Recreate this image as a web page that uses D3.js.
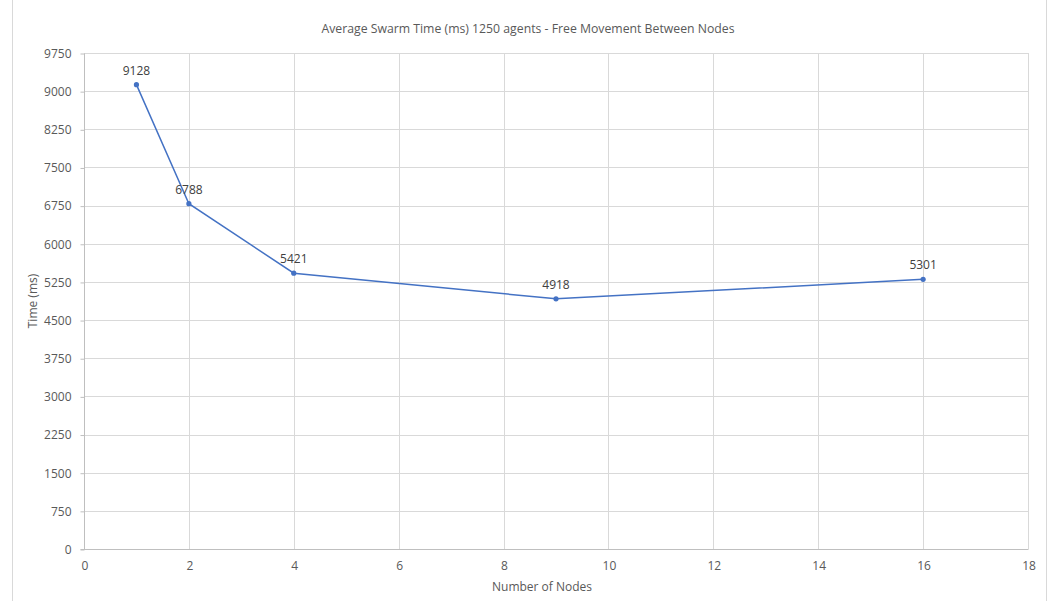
<!DOCTYPE html>
<html>
<head>
<meta charset="utf-8">
<script src="https://cdn.jsdelivr.net/npm/d3@7"></script>
<style>
  html, body { margin: 0; padding: 0; background: #fff; }
  svg { display: block; }
  text { font-family: "Open Sans", "Noto Sans", sans-serif; }
</style>
</head>
<body>
<svg id="chart" width="1054" height="601"></svg>
<script>
// Average swarm time per node count
const nodes = [1, 2, 4, 9, 16];
const timesMs = [9128, 6788, 5421, 4918, 5301];
const xTicks = [0, 2, 4, 6, 8, 10, 12, 14, 16, 18];
const yTicks = [0, 750, 1500, 2250, 3000, 3750, 4500, 5250, 6000, 6750, 7500, 8250, 9000, 9750];
const titleText = "Average Swarm Time (ms) 1250 agents - Free Movement Between Nodes";
const xTitle = "Number of Nodes";
const yTitle = "Time (ms)";

const W = 1054, H = 601;
const plot = { left: 84, right: 1028, top: 53, bottom: 549 };
const lineColor = "#4472C4";
const gridColor = "#d9d9d9";
const textColor = "#595959";

const svg = d3.select("#chart");

// chart frame
svg.append("rect")
  .attr("x", 12.5).attr("y", -1).attr("width", 1034).attr("height", H + 2)
  .attr("fill", "#fff").attr("stroke", "#d9d9d9").attr("stroke-width", 1);

const x = d3.scaleLinear().domain([0, 18]).range([plot.left, plot.right]);
const y = d3.scaleLinear().domain([0, 9750]).range([plot.bottom, plot.top]);

// gridlines
svg.append("g").selectAll("line").data(yTicks).join("line")
  .attr("x1", plot.left).attr("x2", plot.right)
  .attr("y1", d => Math.round(y(d)) + 0.5).attr("y2", d => Math.round(y(d)) + 0.5)
  .attr("stroke", gridColor).attr("stroke-width", 1);
svg.append("g").selectAll("line").data(xTicks).join("line")
  .attr("x1", d => Math.round(x(d)) + 0.5).attr("x2", d => Math.round(x(d)) + 0.5)
  .attr("y1", plot.top).attr("y2", plot.bottom)
  .attr("stroke", gridColor).attr("stroke-width", 1);

// y axis
const yAxis = svg.append("g")
  .attr("transform", `translate(${plot.left + 0.5},0.5)`)
  .call(d3.axisLeft(y).tickValues(yTicks).tickSize(4).tickPadding(9).tickFormat(d3.format("d")));
yAxis.select(".domain").attr("stroke", "#bfbfbf").attr("d", `M0,${plot.top}V${plot.bottom}`);
yAxis.selectAll(".tick line").attr("stroke", "#bfbfbf");
yAxis.selectAll(".tick text").attr("fill", textColor).attr("font-size", 12);

// x axis
const xAxis = svg.append("g")
  .attr("transform", `translate(0.5,${plot.bottom + 0.5})`)
  .call(d3.axisBottom(x).tickValues(xTicks).tickSize(0).tickPadding(12).tickFormat(d3.format("d")));
xAxis.select(".domain").attr("stroke", "#bfbfbf").attr("d", `M${plot.left - 4},0H${plot.right}`);
xAxis.selectAll(".tick text").attr("fill", textColor).attr("font-size", 12);

// series
const pts = nodes.map((n, i) => ({ n, v: timesMs[i] }));
svg.append("path").datum(pts)
  .attr("fill", "none").attr("stroke", lineColor).attr("stroke-width", 1.5)
  .attr("d", d3.line().x(d => x(d.n)).y(d => y(d.v)));
svg.append("g").selectAll("circle").data(pts).join("circle")
  .attr("cx", d => x(d.n)).attr("cy", d => y(d.v)).attr("r", 2.6)
  .attr("fill", lineColor);

// value labels
svg.append("g").selectAll("text").data(pts).join("text")
  .attr("x", d => x(d.n)).attr("y", d => y(d.v) - 10)
  .attr("text-anchor", "middle").attr("fill", "#404040").attr("font-size", 12)
  .text(d => d.v);

// titles
svg.append("text").attr("x", 528).attr("y", 33).attr("text-anchor", "middle")
  .attr("fill", textColor).attr("font-size", 12.25).text(titleText);
svg.append("text").attr("x", 542).attr("y", 591).attr("text-anchor", "middle")
  .attr("fill", textColor).attr("font-size", 12).text(xTitle);
svg.append("text").attr("transform", `translate(37,${(plot.top + plot.bottom) / 2}) rotate(-90)`)
  .attr("text-anchor", "middle").attr("fill", textColor).attr("font-size", 12).text(yTitle);
</script>
</body>
</html>
